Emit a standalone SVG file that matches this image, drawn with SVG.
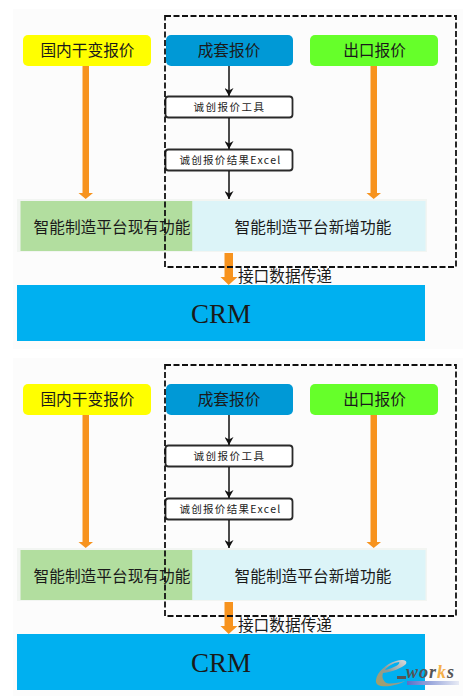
<svg xmlns="http://www.w3.org/2000/svg" width="471" height="696" viewBox="0 0 471 696">
<defs>
<marker id="k" markerWidth="9" markerHeight="9" refX="8" refY="4.500" orient="auto" markerUnits="userSpaceOnUse"><path d="M0 0L2.500 4.500L0 9L8 4.500Z" fill="#111"/></marker>
<linearGradient id="eg" x1="0" y1="1" x2="1" y2="0"><stop offset="0" stop-color="#a8a060"/><stop offset="0.5" stop-color="#8f9a98"/><stop offset="1" stop-color="#d8dce0"/></linearGradient>
<linearGradient id="bar" x1="0" x2="1" y1="0" y2="0"><stop offset="0" stop-color="#5a70c8"/><stop offset="1" stop-color="#e8ebf5"/></linearGradient>
</defs>
<style>
text{font-family:"Noto Sans CJK SC","Liberation Serif",serif;fill:#1a1a1a;text-anchor:middle}
.h{font-size:15.700px}
.s{font-size:10.500px;letter-spacing:1.500px}
.x{font-size:10.500px;letter-spacing:1.300px}
.c{font-family:"Liberation Serif",serif;font-size:27px}
.o{fill:#f7931e}
.tool{fill:#fff;stroke:#2a2a2a;stroke-width:1.800}
.line{stroke:#111;stroke-width:1.500;fill:none;marker-end:url(#k)}
.dash{fill:none;stroke:#111;stroke-width:1.800;stroke-dasharray:6 2.500}
</style>
<rect x="13" y="9" width="450" height="340" fill="#fcfcfc"/>
<rect x="13" y="358" width="450" height="338" fill="#fcfcfc"/>

<g id="panel-top">
<g id="t-guonei"><rect x="23" y="35" width="128" height="31" rx="5" fill="#ffff00"/><text class="h" x="87.500" y="55.500">国内干变报价</text></g>
<g id="t-chengtao"><rect x="166" y="35" width="127" height="31" rx="5" fill="#0099d6"/><text class="h" x="229" y="55.500">成套报价</text></g>
<g id="t-chukou"><rect x="310" y="35" width="128" height="31" rx="5" fill="#66ff2a"/><text class="h" x="374.500" y="55.500">出口报价</text></g>
<g id="t-tool1"><rect class="tool" x="165.500" y="96.500" width="127" height="21" rx="3"/><text class="s" x="229.500" y="110.500">诚创报价工具</text></g>
<g id="t-tool2"><rect class="tool" x="165.500" y="149.500" width="127" height="21" rx="3"/><text class="x" x="230.500" y="164">诚创报价结果Excel</text></g>
<g id="t-platform">
<rect x="17" y="199" width="410" height="53" fill="#f2f5f2"/>
<rect x="20.500" y="201" width="172" height="50" fill="#b2de9f"/>
<rect x="192.500" y="201" width="233" height="50" fill="#dcf4f8"/>
<text class="h" x="112" y="233">智能制造平台现有功能</text>
<text class="h" x="313" y="233">智能制造平台新增功能</text>
</g>
<g id="t-crm"><rect x="17" y="285" width="408" height="56" fill="#00b0f0"/><text class="c" x="221" y="323">CRM</text></g>
<g id="t-label"><text class="h" x="285" y="282">接口数据传递</text></g>
<g id="t-connectors">
<path class="o" d="M82.500 66H89V193H93L85.700 199L78.500 193H82.500Z"/>
<path class="o" d="M370.500 66H377V193H381L373.700 199L366.500 193H370.500Z"/>
<path class="o" d="M224.500 253H233V277H237.500L228.700 285L220.500 277H224.500Z"/>
<path class="line" d="M229 66V96"/>
<path class="line" d="M229 118V149"/>
<path class="line" d="M229 171V199"/>
</g>
<rect id="t-dashed" class="dash" x="165" y="16" width="291" height="251"/>
</g>

<g id="panel-bottom" transform="translate(0 349)">
<g id="b-guonei"><rect x="23" y="35" width="128" height="31" rx="5" fill="#ffff00"/><text class="h" x="87.500" y="55.500">国内干变报价</text></g>
<g id="b-chengtao"><rect x="166" y="35" width="127" height="31" rx="5" fill="#0099d6"/><text class="h" x="229" y="55.500">成套报价</text></g>
<g id="b-chukou"><rect x="310" y="35" width="128" height="31" rx="5" fill="#66ff2a"/><text class="h" x="374.500" y="55.500">出口报价</text></g>
<g id="b-tool1"><rect class="tool" x="165.500" y="96.500" width="127" height="21" rx="3"/><text class="s" x="229.500" y="110.500">诚创报价工具</text></g>
<g id="b-tool2"><rect class="tool" x="165.500" y="149.500" width="127" height="21" rx="3"/><text class="x" x="230.500" y="164">诚创报价结果Excel</text></g>
<g id="b-platform">
<rect x="17" y="199" width="410" height="53" fill="#f2f5f2"/>
<rect x="20.500" y="201" width="172" height="50" fill="#b2de9f"/>
<rect x="192.500" y="201" width="233" height="50" fill="#dcf4f8"/>
<text class="h" x="112" y="233">智能制造平台现有功能</text>
<text class="h" x="313" y="233">智能制造平台新增功能</text>
</g>
<g id="b-crm"><rect x="17" y="285" width="408" height="56" fill="#00b0f0"/><text class="c" x="221" y="323">CRM</text></g>
<g id="b-label"><text class="h" x="285" y="282">接口数据传递</text></g>
<g id="b-connectors">
<path class="o" d="M82.500 66H89V193H93L85.700 199L78.500 193H82.500Z"/>
<path class="o" d="M370.500 66H377V193H381L373.700 199L366.500 193H370.500Z"/>
<path class="o" d="M224.500 253H233V277H237.500L228.700 285L220.500 277H224.500Z"/>
<path class="line" d="M229 66V96"/>
<path class="line" d="M229 118V149"/>
<path class="line" d="M229 171V199"/>
</g>
<rect id="b-dashed" class="dash" x="165" y="16" width="291" height="251"/>
</g>

<g id="logo">
<path d="M383 673C392 672 402 668 406 664C408 660 402 659 396 661C386 664 377 672 376 680C375 686 382 687 390 686C396 685 402 683 405 681C398 683 388 685 385 682C382 679 382 676 383 673ZM385 670C388 666 393 663 399 662C401 664 394 668 385 670Z" fill="url(#eg)"/>
<rect x="397" y="676" width="9" height="3" fill="#555"/>
<rect x="407" y="681" width="52" height="4" fill="url(#bar)"/>
<text x="406" y="678" style="text-anchor:start;font-family:'Liberation Serif',serif;font-size:18px;font-weight:bold;font-style:italic;fill:#555;letter-spacing:1px">wor<tspan style="fill:#f5b04a">k</tspan>s</text>
</g>
</svg>
